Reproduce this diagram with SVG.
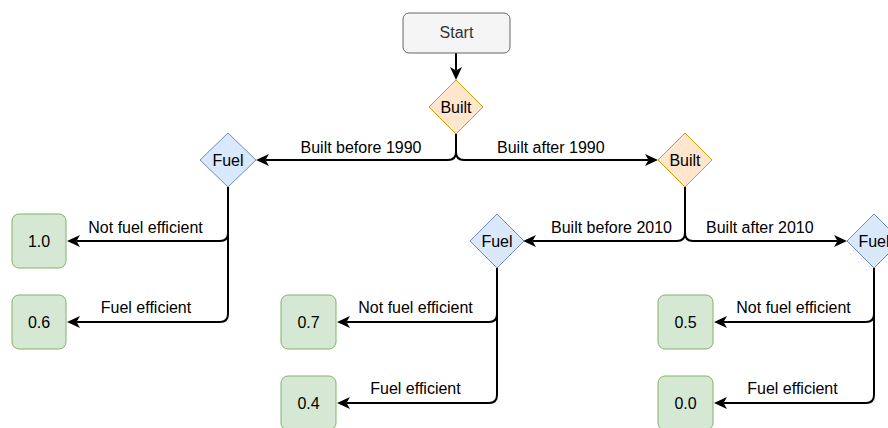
<svg xmlns="http://www.w3.org/2000/svg" width="888" height="428" viewBox="0 0 888 428">
<defs>
<marker id="arr" markerUnits="userSpaceOnUse" viewBox="0 0 13 12" markerWidth="13" markerHeight="12" refX="3.5" refY="6" orient="auto">
<path d="M0,0 L13,6 L0,12 L3.5,6 Z" fill="#000"/>
</marker>
<style>
text{font-family:"Liberation Sans",Arial,Helvetica,sans-serif;font-size:16px;fill:#000}
.c{text-anchor:middle}
.start rect{fill:#f5f5f5;stroke:#666;stroke-width:1}
.start text{fill:#333}
.built polygon{fill:#ffe6cc;stroke:#d79b00;stroke-width:1}
.fuel polygon{fill:#dae8fc;stroke:#6c8ebf;stroke-width:1}
.leaf rect{fill:#d5e8d4;stroke:#82b366;stroke-width:1}
.e{fill:none;stroke:#000;stroke-width:2;marker-end:url(#arr)}
</style>
</defs>
<rect width="888" height="428" fill="#fff"/>
<g id="connectors">
<path class="e" d="M456,53 V70.5"/>
<path class="e" d="M456,134 V152 Q456,160 448,160 H265.5"/>
<path class="e" d="M456,134 V152 Q456,160 464,160 H648.5"/>
<path class="e" d="M228,187 V233 Q228,241 220,241 H76.5"/>
<path class="e" d="M228,187 V314 Q228,322 220,322 H76.5"/>
<path class="e" d="M685,187 V233 Q685,241 677,241 H532.5"/>
<path class="e" d="M685,187 V233 Q685,241 693,241 H837.5"/>
<path class="e" d="M497,268 V314 Q497,322 489,322 H346.5"/>
<path class="e" d="M497,268 V395 Q497,403 489,403 H346.5"/>
<path class="e" d="M874,268 V314 Q874,322 866,322 H723.5"/>
<path class="e" d="M874,268 V395 Q874,403 866,403 H723.5"/>
<text class="c" x="361" y="152.5">Built before 1990</text>
<text x="497" y="152.5">Built after 1990</text>
<text x="672" y="233" text-anchor="end">Built before 2010</text>
<text x="706" y="233">Built after 2010</text>
<text class="c" x="145.5" y="233">Not fuel efficient</text>
<text class="c" x="146" y="313">Fuel efficient</text>
<text class="c" x="415.5" y="313">Not fuel efficient</text>
<text class="c" x="415.5" y="394">Fuel efficient</text>
<text class="c" x="793.5" y="313">Not fuel efficient</text>
<text class="c" x="792.5" y="394">Fuel efficient</text>
</g>
<g id="start" class="start">
<rect x="403" y="13" width="107" height="40" rx="6"/>
<text class="c" x="456.5" y="38">Start</text>
</g>
<g id="built1" class="built">
<polygon points="456,80 483,107 456,134 429,107"/>
<text class="c" x="456" y="112.5">Built</text>
</g>
<g id="built2" class="built">
<polygon points="685,133 712,160 685,187 658,160"/>
<text class="c" x="685" y="165.5">Built</text>
</g>
<g id="fuel1" class="fuel">
<polygon points="228,133 256,160 228,187 200,160"/>
<text class="c" x="228" y="165.5">Fuel</text>
</g>
<g id="fuel2" class="fuel">
<polygon points="497,214 524,241 497,268 470,241"/>
<text class="c" x="497" y="246.5">Fuel</text>
</g>
<g id="fuel3" class="fuel">
<polygon points="874,214 901,241 874,268 847,241"/>
<text class="c" x="874" y="246.5">Fuel</text>
</g>
<g id="leaf10" class="leaf">
<rect x="12" y="214" width="54" height="54" rx="7"/>
<text class="c" x="39" y="246.5">1.0</text>
</g>
<g id="leaf06" class="leaf">
<rect x="12" y="295" width="54" height="54" rx="7"/>
<text class="c" x="39" y="327.5">0.6</text>
</g>
<g id="leaf07" class="leaf">
<rect x="281" y="295" width="55" height="54" rx="7"/>
<text class="c" x="308.5" y="327.5">0.7</text>
</g>
<g id="leaf04" class="leaf">
<rect x="281" y="376" width="55" height="54" rx="7"/>
<text class="c" x="308.5" y="408.5">0.4</text>
</g>
<g id="leaf05" class="leaf">
<rect x="658" y="295" width="55" height="54" rx="7"/>
<text class="c" x="685.5" y="327.5">0.5</text>
</g>
<g id="leaf00" class="leaf">
<rect x="658" y="376" width="55" height="54" rx="7"/>
<text class="c" x="685.5" y="408.5">0.0</text>
</g>
</svg>
